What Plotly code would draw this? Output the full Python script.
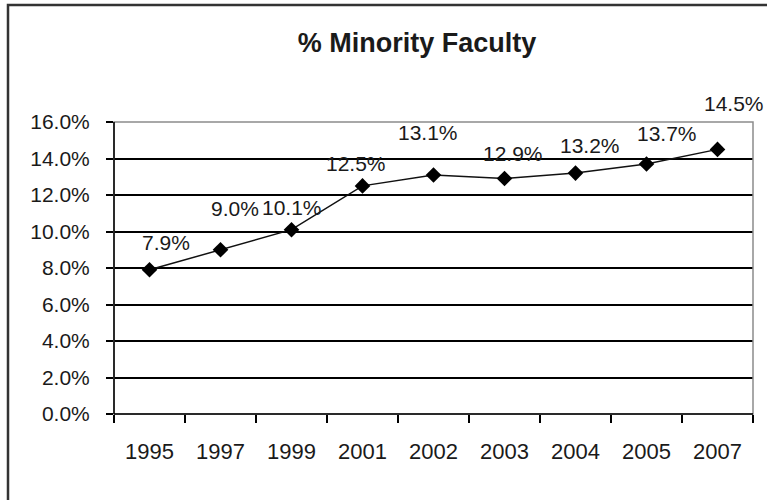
import plotly.graph_objects as go

years = ["1995", "1997", "1999", "2001", "2002", "2003", "2004", "2005", "2007"]
minority_pct = [7.9, 9.0, 10.1, 12.5, 13.1, 12.9, 13.2, 13.7, 14.5]
y_ticks = [0, 2, 4, 6, 8, 10, 12, 14, 16]
y_tick_text = ["%.1f%%" % v for v in y_ticks]

# label offsets (pixels) relative to each point, as placed in the original
label_dx = [16, 14, 0, -7, -6, 8, 14, 20, 16]
label_dy = [27, 41, 22, 22, 42, 25, 28, 30, 46]

FONT = "Liberation Sans, Arial, sans-serif"

fig = go.Figure()
fig.add_trace(go.Scatter(
    x=years, y=minority_pct, mode="lines+markers",
    line=dict(color="#111111", width=1.5),
    marker=dict(symbol="diamond", size=12, color="black"),
    hoverinfo="x+y", showlegend=False,
))

for i, (yv, dx, dy) in enumerate(zip(minority_pct, label_dx, label_dy)):
    fig.add_annotation(x=i, y=yv, xref="x", yref="y", text="%.1f%%" % yv,
                       showarrow=False, xshift=dx, yshift=dy,
                       xanchor="center", yanchor="middle",
                       font=dict(family=FONT, size=21, color="#1a1a1a"))

L, R, T, B = 114, 14, 122, 86
W, H = 767, 500
pw, ph = W - L - R, H - T - B

# plot-area border (gray) drawn above gridline at top
fig.add_shape(type="rect", xref="x domain", yref="y domain", x0=0, x1=1, y0=0, y1=1,
              line=dict(color="#8c8c8c", width=1.5), layer="above")
# black axis lines
fig.add_shape(type="line", xref="x domain", yref="y domain", x0=0, x1=0, y0=0, y1=1,
              line=dict(color="black", width=1.5), layer="above")
fig.add_shape(type="line", xref="x domain", yref="y domain", x0=0, x1=1, y0=0, y1=0,
              line=dict(color="black", width=1.5), layer="above")
# outer chart border
fig.add_shape(type="rect", xref="paper", yref="paper",
              x0=(8 - L) / pw, x1=(W + 5 - L) / pw,
              y0=(H - B - (H + 5)) / ph, y1=(H - B - 5) / ph,
              line=dict(color="#333333", width=2.5), layer="above")

fig.update_layout(
    width=W, height=H,
    margin=dict(l=L, r=R, t=T, b=B, autoexpand=False),
    paper_bgcolor="white", plot_bgcolor="white",
    font=dict(family=FONT, color="#1a1a1a"),
    title=dict(text="<b>% Minority Faculty</b>", x=417 / W, xanchor="center",
               y=1 - 43 / H, yanchor="middle",
               font=dict(family=FONT, size=27, color="#1a1a1a")),
)
fig.update_xaxes(
    type="category", range=[-0.5, len(years) - 0.5],
    showgrid=False, showline=False, zeroline=False,
    ticks="outside", tickson="boundaries", ticklen=8, tickwidth=1.5, tickcolor="black",
    tickfont=dict(family=FONT, size=22, color="#1a1a1a"), ticklabelstandoff=22,
)
fig.update_yaxes(
    range=[0, 16], tickvals=y_ticks, ticktext=y_tick_text,
    showgrid=True, gridcolor="black", gridwidth=1.5,
    showline=False, zeroline=False,
    ticks="outside", ticklen=7, tickwidth=1.5, tickcolor="black",
    tickfont=dict(family=FONT, size=21, color="#1a1a1a"), ticklabelstandoff=12,
)

fig.write_html("out.html", config={"displayModeBar": False},
               post_script="document.body.style.margin='0';")
